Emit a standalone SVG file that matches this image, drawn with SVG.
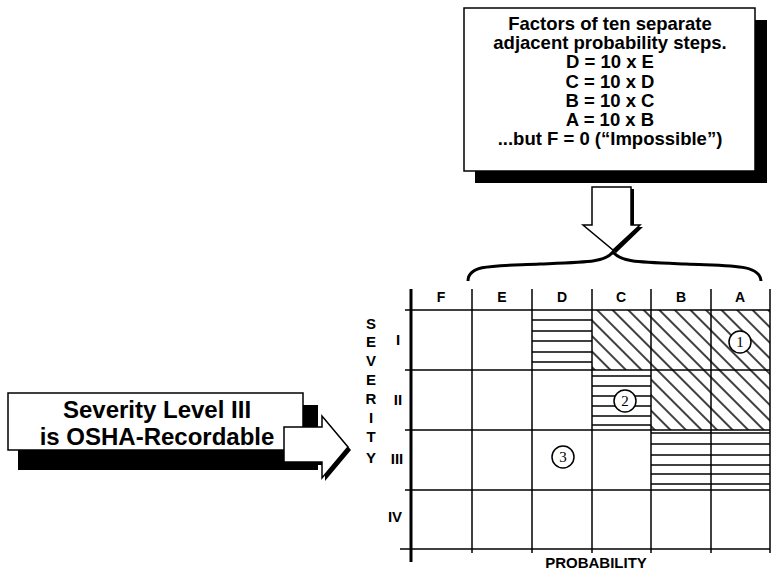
<svg xmlns="http://www.w3.org/2000/svg" width="773" height="576" viewBox="0 0 773 576">
<style>
.t{font-family:"Liberation Sans",Arial,Helvetica,sans-serif;font-weight:bold;fill:#000;text-anchor:middle}
.n{font-family:"Liberation Serif","Times New Roman",serif;font-size:15px;fill:#000;text-anchor:middle}
.g{stroke:#000;stroke-width:1.5;fill:none}
.h{stroke:#000;stroke-width:1.6}
.box{fill:#fff;stroke:#000;stroke-width:1.5}
</style>
<defs>
<pattern id="diag" patternUnits="userSpaceOnUse" width="11" height="11" patternTransform="rotate(-45)">
<line x1="5" y1="-2" x2="5" y2="13" stroke="#000" stroke-width="1.5"/>
</pattern>
</defs>
<rect width="773" height="576" fill="#fff"/>

<g id="factors-box">
<rect x="475" y="20" width="292" height="163" fill="#000"/>
<rect class="box" x="464" y="8" width="291" height="163"/>
<text class="t" font-size="18.5" x="610" y="30">Factors of ten separate</text>
<text class="t" font-size="18.5" x="610" y="49">adjacent probability steps.</text>
<text class="t" font-size="18.5" x="610" y="68">D = 10 x E</text>
<text class="t" font-size="18.5" x="610" y="88">C = 10 x D</text>
<text class="t" font-size="18.5" x="610" y="107">B = 10 x C</text>
<text class="t" font-size="18.5" x="610" y="126">A = 10 x B</text>
<text class="t" font-size="18.5" x="610" y="145">...but F = 0 (“Impossible”)</text>
</g>

<g id="down-arrow">
<polygon points="595,189 634,189 634,227 643,227 616,253 586,227 595,227" fill="#000"/>
<polygon points="592,187 631,187 631,225 640,225 613,250 583,225 592,225" fill="#fff" stroke="#000" stroke-width="1.5"/>
</g>

<g id="brace">
<path d="M468,281 C468,264 495,266 540,264 C590,262 605,262 613,252 C621,262 636,262 686,264 C731,266 760,264 761,281" fill="none" stroke="#000" stroke-width="3"/>
</g>

<g id="osha-box">
<rect x="18" y="405" width="300" height="65" fill="#000"/>
<rect class="box" x="8" y="393" width="295" height="57"/>
<text class="t" font-size="24" x="157" y="418">Severity Level III</text>
<text class="t" font-size="24" x="157" y="445">is OSHA-Recordable</text>
<polygon points="287,430 325,430 325,419 351,450 325,481 325,465 287,465" fill="#000"/>
<polygon points="284,427 322,427 322,416 348,447 322,478 322,462 284,462" fill="#fff" stroke="#000" stroke-width="1.5"/>
</g>

<g id="matrix">
<rect x="592" y="310" width="59" height="60" fill="url(#diag)"/>
<rect x="651" y="310" width="119" height="120" fill="url(#diag)"/>
<g id="hatch-D-I">
<line class="h" x1="532" y1="320" x2="592" y2="320"/>
<line class="h" x1="532" y1="331" x2="592" y2="331"/>
<line class="h" x1="532" y1="341" x2="592" y2="341"/>
<line class="h" x1="532" y1="352" x2="592" y2="352"/>
<line class="h" x1="532" y1="362" x2="592" y2="362"/>
</g>
<g id="hatch-C-II">
<line class="h" x1="592" y1="376" x2="651" y2="376"/>
<line class="h" x1="592" y1="386" x2="651" y2="386"/>
<line class="h" x1="592" y1="396" x2="651" y2="396"/>
<line class="h" x1="592" y1="406" x2="651" y2="406"/>
<line class="h" x1="592" y1="416" x2="651" y2="416"/>
<line class="h" x1="592" y1="425" x2="651" y2="425"/>
</g>
<g id="hatch-BA-III">
<line class="h" x1="651" y1="433" x2="770" y2="433" stroke-width="2.5"/>
<line class="h" x1="651" y1="444" x2="770" y2="444"/>
<line class="h" x1="651" y1="455" x2="770" y2="455"/>
<line class="h" x1="651" y1="465" x2="770" y2="465"/>
<line class="h" x1="651" y1="474" x2="770" y2="474"/>
<line class="h" x1="651" y1="484" x2="770" y2="484"/>
</g>
<g id="grid">
<line class="g" x1="405" y1="310" x2="770" y2="310"/>
<line class="g" x1="405" y1="370" x2="770" y2="370"/>
<line class="g" x1="405" y1="430" x2="770" y2="430"/>
<line class="g" x1="405" y1="490" x2="770" y2="490"/>
<line class="g" x1="400" y1="549" x2="770" y2="549" stroke-width="2"/>
<line class="g" x1="472" y1="289" x2="472" y2="553"/>
<line class="g" x1="532" y1="289" x2="532" y2="553"/>
<line class="g" x1="592" y1="289" x2="592" y2="553"/>
<line class="g" x1="651" y1="289" x2="651" y2="553"/>
<line class="g" x1="711" y1="289" x2="711" y2="553"/>
<line class="g" x1="770" y1="289" x2="770" y2="553"/>
<line x1="411" y1="289" x2="411" y2="562" stroke="#000" stroke-width="3"/>
</g>
<g id="col-labels">
<text class="t" font-size="14" x="441" y="302">F</text>
<text class="t" font-size="14" x="502" y="302">E</text>
<text class="t" font-size="14" x="562" y="302">D</text>
<text class="t" font-size="14" x="621" y="302">C</text>
<text class="t" font-size="14" x="681" y="302">B</text>
<text class="t" font-size="14" x="740" y="302">A</text>
</g>
<g id="row-labels">
<text class="t" font-size="15" x="398" y="345">I</text>
<text class="t" font-size="15" x="398" y="405">II</text>
<text class="t" font-size="15" x="397" y="464">III</text>
<text class="t" font-size="15" x="395" y="522">IV</text>
</g>
<g id="severity-label">
<text class="t" font-size="15" x="371" y="329">S</text>
<text class="t" font-size="15" x="371" y="347">E</text>
<text class="t" font-size="15" x="371" y="366">V</text>
<text class="t" font-size="15" x="371" y="385">E</text>
<text class="t" font-size="15" x="371" y="404">R</text>
<text class="t" font-size="15" x="371" y="423">I</text>
<text class="t" font-size="15" x="371" y="442">T</text>
<text class="t" font-size="15" x="371" y="463">Y</text>
</g>
<text class="t" font-size="15" x="596" y="568">PROBABILITY</text>
<g id="circle-1">
<circle cx="740" cy="342" r="11" fill="#fff" stroke="#000" stroke-width="1.5"/>
<text class="n" x="740" y="347">1</text>
</g>
<g id="circle-2">
<circle cx="625" cy="401" r="11" fill="#fff" stroke="#000" stroke-width="1.5"/>
<text class="n" x="625" y="406">2</text>
</g>
<g id="circle-3">
<circle cx="563" cy="457" r="11" fill="#fff" stroke="#000" stroke-width="1.5"/>
<text class="n" x="563" y="462">3</text>
</g>
</g>
</svg>
